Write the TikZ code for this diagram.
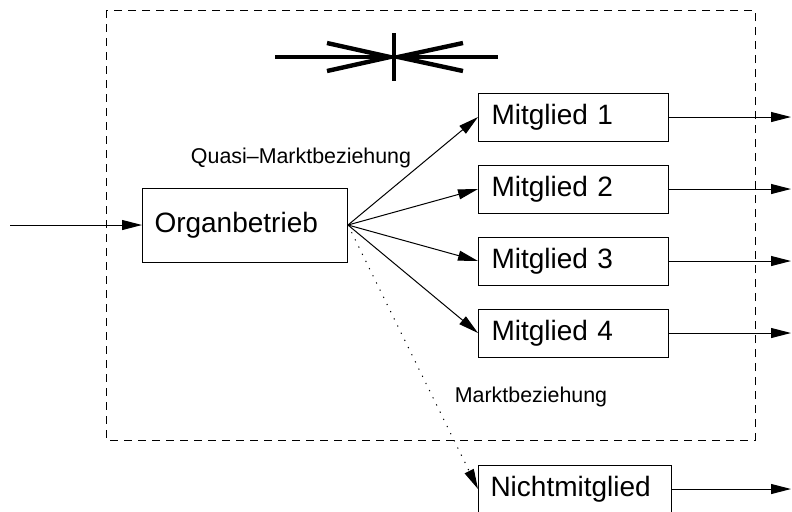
\documentclass[tikz,border=0pt]{standalone}
\usepackage{fontspec}
\setmainfont{Liberation Sans}
\usetikzlibrary{positioning,arrows.meta}

\begin{document}
\begin{tikzpicture}[x=0.5pt, y=-0.5pt, line width=0.5pt,
    box/.style={draw, font=\fontsize{14}{16}\selectfont, inner xsep=6.5pt, minimum height=24pt, text width=82pt, align=left},
    pfeil/.style={-{Triangle[length=10pt,width=5pt]}},
    lbl/.style={font=\fontsize{10.7}{12}\selectfont}]
  \useasboundingbox (0,0) rectangle (792,511);
  \draw[dash pattern=on 4pt off 3pt] (106,10) rectangle (755,440);
  % Symbol oben
  \draw[line width=2.2pt] (275,57) -- (498,57) (394,33) -- (394,81);
  \draw[line width=2.2pt] (327,43) -- (390,57) -- (327,71) (463,43) -- (398,57) -- (463,71);

  \node[name=o, draw, font=\fontsize{14}{16}\selectfont, inner xsep=6pt, minimum height=37pt, text width=90.5pt, align=left] at (245,225) {Organbetrieb};
  \node[name=m1, box, anchor=west] at (478,117) {Mitglied 1};
  \node[name=m2, box, anchor=west] at (478,189) {Mitglied 2};
  \node[name=m3, box, anchor=west] at (478,261) {Mitglied 3};
  \node[name=m4, box, anchor=west] at (478,333) {Mitglied 4};
  \node[name=n, box, anchor=west, inner xsep=6pt, text width=84.5pt] at (478,489) {Nichtmitglied};
  \coordinate (in) at (10,225);
  \coordinate (aus) at (791,0);

  \draw[pfeil] (in) -- (o);
  \foreach \i in {1,...,4} {
    \draw[pfeil] (o.east) -- (m\i.west);
    \draw[pfeil] (m\i.east) -- (m\i.east -| aus);
  }
  \draw[pfeil, dash pattern=on 0.6pt off 3.4pt] (o.east) -- (n.west);
  \draw[pfeil] (n.east) -- (n.east -| aus);

  \node[lbl] at (301,158) {Quasi--Marktbeziehung};
  \node[lbl] at (531,397) {Marktbeziehung};
\end{tikzpicture}
\end{document}
